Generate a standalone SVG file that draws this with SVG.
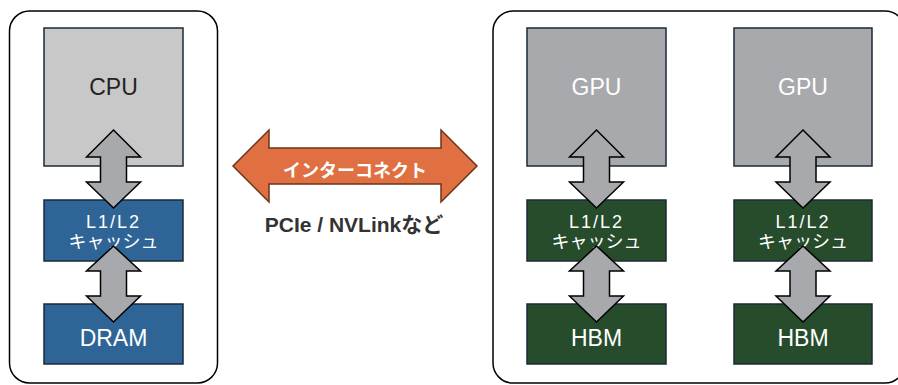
<svg xmlns="http://www.w3.org/2000/svg" width="898" height="385" viewBox="0 0 898 385">
<style>
.frame{fill:#ffffff;stroke:#000000;stroke-width:1.5}
.box{stroke:#1b2a38;stroke-width:1.5}
.cpu{fill:#c8c8c8}
.gpu{fill:#a8a9ad}
.blue{fill:#2f6497}
.green{fill:#264c2c}
.varrow{fill:#a8a9ad;stroke:#000000;stroke-width:1.5;stroke-linejoin:miter}
.harrow{fill:#e07042;stroke:#6b3519;stroke-width:1.5}
text{font-family:"Liberation Sans","Noto Sans CJK JP",sans-serif;text-anchor:middle}
.big{font-size:23px}
.dark{fill:#222222}
.white{fill:#ffffff}
.cache{font-size:18px;fill:#ffffff}
</style>
<defs>
<polygon id="va1" points="0,130 27,157 13,157 13,182 27,182 0,208 -27,182 -13,182 -13,157 -27,157"/>
<polygon id="va2" points="0,246 27,271 13,271 13,296 27,296 0,322 -27,296 -13,296 -13,271 -27,271"/>
</defs>
<rect class="frame" x="9.5" y="11" width="208" height="372" rx="20"/>
<rect class="frame" x="493" y="11" width="412" height="372" rx="20"/>

<g id="cpu">
<rect class="box cpu" x="44" y="28" width="139" height="138"/>
<text class="big dark" x="113.5" y="95">CPU</text>
</g>
<g id="cpu-cache">
<rect class="box blue" x="44" y="200" width="139" height="61"/>
<text class="cache" x="113.5" y="228" letter-spacing="2">L1/L2</text>
<text class="cache" x="113.5" y="248">キャッシュ</text>
</g>
<g id="dram">
<rect class="box blue" x="44" y="304" width="139" height="60"/>
<text class="big white" x="113.5" y="346">DRAM</text>
</g>

<g id="gpu1">
<rect class="box gpu" x="527" y="28" width="139" height="138"/>
<text class="big white" x="596.5" y="95">GPU</text>
</g>
<g id="gpu1-cache">
<rect class="box green" x="527" y="200" width="139" height="61"/>
<text class="cache" x="596.5" y="228" letter-spacing="2">L1/L2</text>
<text class="cache" x="596.5" y="248">キャッシュ</text>
</g>
<g id="hbm1">
<rect class="box green" x="527" y="304" width="139" height="60"/>
<text class="big white" x="596.5" y="346">HBM</text>
</g>

<g id="gpu2">
<rect class="box gpu" x="734" y="28" width="138" height="138"/>
<text class="big white" x="803" y="95">GPU</text>
</g>
<g id="gpu2-cache">
<rect class="box green" x="734" y="200" width="138" height="61"/>
<text class="cache" x="803" y="228" letter-spacing="2">L1/L2</text>
<text class="cache" x="803" y="248">キャッシュ</text>
</g>
<g id="hbm2">
<rect class="box green" x="734" y="304" width="138" height="60"/>
<text class="big white" x="803" y="346">HBM</text>
</g>

<g id="connectors">
<use href="#va1" class="varrow" transform="translate(113.5,0)"/>
<use href="#va2" class="varrow" transform="translate(113.5,0)"/>
<use href="#va1" class="varrow" transform="translate(596.5,0)"/>
<use href="#va2" class="varrow" transform="translate(596.5,0)"/>
<use href="#va1" class="varrow" transform="translate(803,0)"/>
<use href="#va2" class="varrow" transform="translate(803,0)"/>
<g id="interconnect">
<polygon class="harrow" points="233,166 269,130 269,148 441,148 441,130 477,166 441,202 441,184 269,184 269,202"/>
<text x="355" y="177" font-size="18" font-weight="bold" fill="#ffffff">インターコネクト</text>
</g>
<text x="354" y="232" font-size="21" font-weight="bold" fill="#333333">PCIe / NVLinkなど</text>
</g>
</svg>
